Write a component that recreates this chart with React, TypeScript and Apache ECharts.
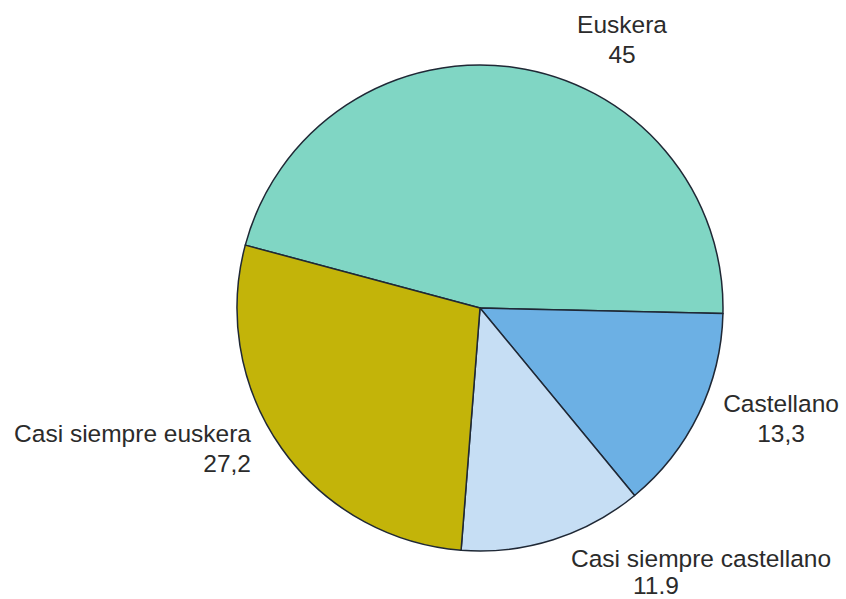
import React, { useEffect, useRef } from "react";
import * as echarts from "echarts";

const categories = ["Euskera", "Castellano", "Casi siempre castellano", "Casi siempre euskera"];
const values = [45, 13.3, 11.9, 27.2];
const valueLabels = ["45", "13,3", "11.9", "27,2"];
const colors = ["#80d6c4", "#6cb0e4", "#c6def4", "#c3b409"];
const labelSpots = [
  { x: 622, y: 39, align: "center" },
  { x: 781, y: 418, align: "center" },
  { x: 571, y: 571, align: "left" },
  { x: 251, y: 448, align: "right" },
];

export default function App() {
  const ref = useRef<HTMLDivElement>(null);
  useEffect(() => {
    if (!ref.current) return;
    const chart = echarts.init(ref.current, undefined, { renderer: "svg" });
    const font = "Liberation Sans, Arial, sans-serif";
    chart.setOption({
      animation: false,
      backgroundColor: "#ffffff",
      series: [
        {
          type: "pie",
          center: [480, 308],
          radius: 243,
          startAngle: 165,
          clockwise: true,
          avoidLabelOverlap: false,
          itemStyle: { borderColor: "#1f2835", borderWidth: 1.5 },
          label: {
            show: true,
            position: "outside",
            fontFamily: font,
            fontSize: 24.5,
            lineHeight: 30,
            color: "#2b2b2b",
            formatter: (p: any) =>
              p.dataIndex === 2
                ? `{n|${p.name}}\n{v|${valueLabels[p.dataIndex]}}`
                : `${p.name}\n${valueLabels[p.dataIndex]}`,
            rich: {
              n: { fontFamily: font, fontSize: 24.5, lineHeight: 28, color: "#2b2b2b" },
              v: { fontFamily: font, fontSize: 24.5, lineHeight: 26, color: "#2b2b2b", padding: [0, 0, 0, 62] },
            },
          },
          labelLine: { show: false },
          labelLayout: (params: any) => {
            const s = labelSpots[params.dataIndex];
            return { x: s.x, y: s.y, align: s.align, verticalAlign: "middle" };
          },
          data: categories.map((c, i) => ({
            name: c,
            value: values[i],
            itemStyle: { color: colors[i] },
          })),
        },
      ],
    });
    return () => chart.dispose();
  }, []);
  return (
    <div
      ref={ref}
      style={{ position: "fixed", left: 0, top: 0, width: 846, height: 599, background: "#fff" }}
    />
  );
}
